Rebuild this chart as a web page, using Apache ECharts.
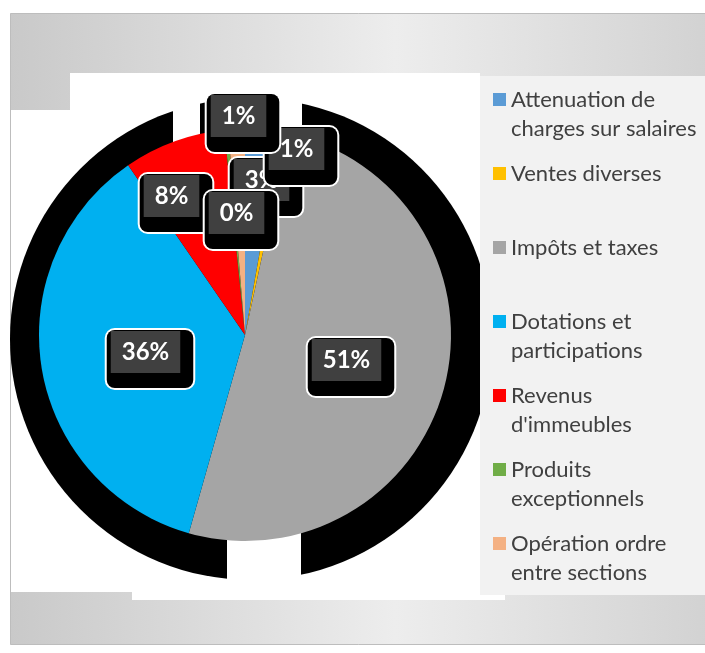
<!DOCTYPE html>
<html>
<head>
<meta charset="utf-8">
<script src="https://cdn.jsdelivr.net/npm/echarts@6/dist/echarts.min.js"></script>
<style>
html, body { margin: 0; padding: 0; background: #fff; }
#main { width: 705px; height: 653px; }
</style>
</head>
<body>
<div id="main"></div>
<script>
var categories = [
    'Attenuation de charges sur salaires',
    'Ventes diverses',
    'Impôts et taxes',
    'Dotations et participations',
    "Revenus d'immeubles",
    'Produits exceptionnels',
    'Opération ordre entre sections'
];
// how the legend breaks each name
var legendLines = [
    ['Attenuation de', 'charges sur salaires'],
    ['Ventes diverses'],
    ['Impôts et taxes'],
    ['Dotations et', 'participations'],
    ['Revenus', "d'immeubles"],
    ['Produits', 'exceptionnels'],
    ['Opération ordre', 'entre sections']
];
// share of each line, in %
var shares = [2.8, 0.6, 51.0, 36.0, 8.0, 0.3, 1.3];
var colors = ['#5B9BD5', '#FFC000', '#A5A5A5', '#00B0F0', '#FF0000', '#70AD47', '#F4B183'];

// labels were dragged by hand in the original: their centres
var labelSpots = [[266, 187], [301, 156], [351, 367], [150, 359], [176, 203], [241, 220], [243, 123]];

var myChart = echarts.init(document.getElementById('main'));

var pieData = [];
for (var i = 0; i < categories.length; i++) {
    pieData.push({ name: categories[i], value: shares[i], itemStyle: { color: colors[i] } });
}

var option = {
    animation: false,
    graphic: [
        // grey frame with a soft gradient
        {
            type: 'rect', z: 0,
            shape: { x: 10.5, y: 13.5, width: 700, height: 631 },
            style: {
                fill: new echarts.graphic.LinearGradient(0, 0, 1, 0, [
                    { offset: 0, color: '#c9c9c9' },
                    { offset: 0.55, color: '#ededed' },
                    { offset: 1, color: '#d2d2d2' }
                ]),
                stroke: '#bdbdbd', lineWidth: 1
            }
        },
        // white plot area
        { type: 'rect', z: 0, shape: { x: 11, y: 110, width: 469, height: 482 }, style: { fill: '#fff' } },
        { type: 'rect', z: 0, shape: { x: 70, y: 73, width: 410, height: 37 }, style: { fill: '#fff' } },
        { type: 'rect', z: 0, shape: { x: 132, y: 592, width: 373, height: 8 }, style: { fill: '#fff' } },
        // black shadow behind the pie
        { type: 'circle', z: 0, shape: { cx: 251, cy: 339, r: 241 }, style: { fill: '#000' } },
        // white gaps cut in the shadow
        { type: 'rect', z: 0, shape: { x: 173, y: 73, width: 27, height: 120 }, style: { fill: '#fff' } },
        { type: 'rect', z: 0, shape: { x: 280, y: 73, width: 22, height: 100 }, style: { fill: '#fff' } },
        { type: 'rect', z: 0, shape: { x: 227, y: 480, width: 74, height: 120 }, style: { fill: '#fff' } },
        // legend panel
        { type: 'rect', z: 0, shape: { x: 480, y: 76, width: 225, height: 519 }, style: { fill: '#f2f2f2' } }
    ],
    legend: {
        orient: 'vertical',
        left: 493,
        top: 56,
        padding: 0,
        itemGap: -13,
        itemWidth: 13,
        itemHeight: 13,
        icon: 'rect',
        selectedMode: false,
        data: categories,
        formatter: function (name) {
            var l = legendLines[categories.indexOf(name)];
            return ' \n' + l[0] + '\n' + (l[1] || ' ');
        },
        textStyle: {
            fontFamily: 'Lato',
            fontSize: 22,
            lineHeight: 29,
            color: '#404040'
        }
    },
    series: [{
        type: 'pie',
        center: [245, 335],
        radius: 206,
        startAngle: 90,
        clockwise: true,
        percentPrecision: 0,
        silent: true,
        data: pieData,
        labelLine: { show: false },
        label: {
            show: true,
            position: 'inside',
            formatter: function (p) {
                return '{v|' + p.percent + '%}';
            },
            backgroundColor: '#000',
            borderColor: '#fff',
            borderWidth: 2,
            borderRadius: 8,
            padding: [1, 13, 15, 4],
            rich: {
                v: {
                    backgroundColor: '#404040',
                    color: '#fff',
                    fontFamily: 'Lato',
                    fontWeight: 'bold',
                    fontSize: 24,
                    height: 42,
                    lineHeight: 42,
                    padding: [0, 11],
                    align: 'center'
                }
            }
        },
        labelLayout: function (params) {
            var s = labelSpots[params.dataIndex];
            return { x: s[0], y: s[1], align: 'center', verticalAlign: 'middle' };
        }
    }]
};

myChart.setOption(option);
</script>
</body>
</html>
